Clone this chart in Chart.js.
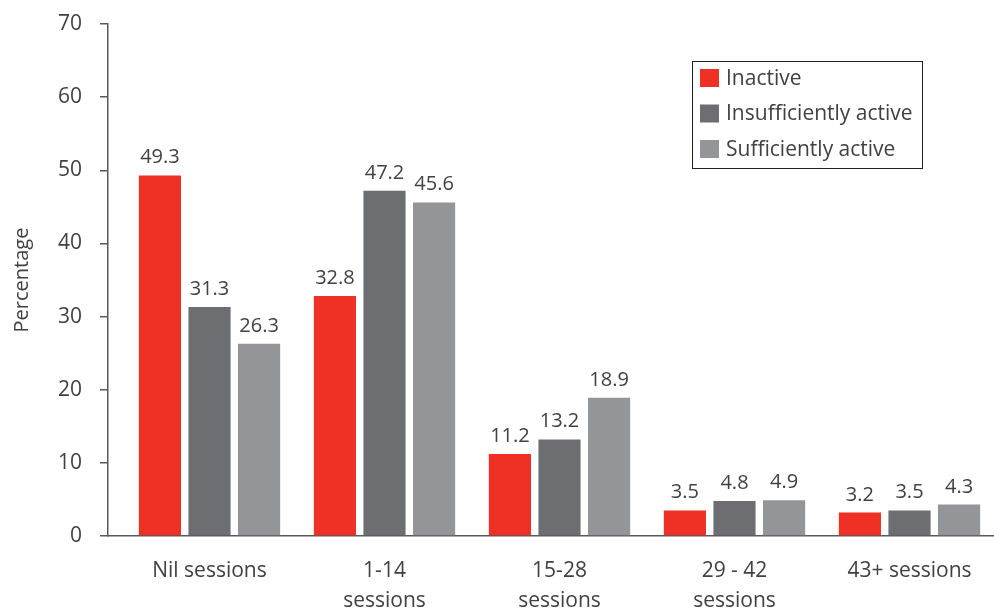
<!DOCTYPE html>
<html>
<head>
<meta charset="utf-8">
<script src="https://cdn.jsdelivr.net/npm/chart.js@4"></script>
<style>
  html, body { margin: 0; padding: 0; background: #fff; overflow: hidden; }
  #wrap { width: 994px; height: 613px; }
</style>
</head>
<body>
<div id="wrap"><canvas id="sessionsChart" width="994" height="613"></canvas></div>
<script>
var categories = ['Nil sessions', ['1-14', 'sessions'], ['15-28', 'sessions'], ['29 - 42', 'sessions'], '43+ sessions'];
var inactive = [49.3, 32.8, 11.2, 3.5, 3.2];
var insufficientlyActive = [31.3, 47.2, 13.2, 4.8, 3.5];
var sufficientlyActive = [26.3, 45.6, 18.9, 4.9, 4.3];
var yTicks = [0, 10, 20, 30, 40, 50, 60, 70];

var textColor = '#414042';
var axisColor = '#58595b';
var fontFamily = '"Open Sans", "Noto Sans", sans-serif';

// numbers above each bar
var valueLabels = {
  id: 'valueLabels',
  afterDatasetsDraw: function (chart) {
    var ctx = chart.ctx;
    ctx.save();
    ctx.fillStyle = textColor;
    ctx.font = '20px ' + fontFamily;
    ctx.textAlign = 'center';
    ctx.textBaseline = 'alphabetic';
    chart.data.datasets.forEach(function (ds, i) {
      chart.getDatasetMeta(i).data.forEach(function (bar, j) {
        ctx.fillText(ds.data[j].toFixed(1), bar.x, bar.y - 12);
      });
    });
    ctx.restore();
  }
};

// boxed legend in the upper right
var boxLegend = {
  id: 'boxLegend',
  afterDraw: function (chart) {
    var ctx = chart.ctx;
    var left = 692, top = 61, w = 230, h = 107;
    ctx.save();
    ctx.strokeStyle = '#231f20';
    ctx.lineWidth = 1;
    ctx.strokeRect(left + 0.5, top + 0.5, w, h);
    ctx.font = '21px ' + fontFamily;
    ctx.textBaseline = 'middle';
    chart.data.datasets.forEach(function (ds, i) {
      var cy = top + 17 + i * 35.5;
      ctx.fillStyle = ds.backgroundColor;
      ctx.fillRect(left + 8, cy - 9, 19, 18);
      ctx.fillStyle = textColor;
      ctx.fillText(ds.label, left + 34, cy + 1);
    });
    ctx.restore();
  }
};

new Chart(document.getElementById('sessionsChart'), {
  type: 'bar',
  data: {
    labels: categories,
    datasets: [
      { label: 'Inactive', data: inactive, backgroundColor: '#ee3124' },
      { label: 'Insufficiently active', data: insufficientlyActive, backgroundColor: '#6d6e71' },
      { label: 'Sufficiently active', data: sufficientlyActive, backgroundColor: '#939598' }
    ]
  },
  options: {
    responsive: false,
    animation: false,
    layout: { padding: { top: 24, right: 0, bottom: 0, left: 0 }, autoPadding: false },
    datasets: { bar: { categoryPercentage: 0.85, barPercentage: 0.85 } },
    plugins: { legend: { display: false }, tooltip: { enabled: false } },
    scales: {
      x: {
        afterFit: function (scale) { scale.height = 77; },
        // groups sit 175px apart, starting a little right of the y axis
        afterBuildTicks: function (scale) {
          scale._startValue = -0.58;
          scale._valueRange = 886 / 175;
        },
        grid: { display: false },
        border: { display: true, color: axisColor, width: 1.5 },
        ticks: {
          color: textColor,
          font: { family: fontFamily, size: 21, lineHeight: 1.43 },
          padding: 12,
          maxRotation: 0,
          autoSkip: false
        }
      },
      y: {
        min: 0,
        max: 70,
        afterFit: function (scale) {
          scale.width = 108;
          // keep the wide tick padding from pushing the plot down
          scale.paddingTop = 0;
          scale.paddingBottom = 0;
        },
        afterBuildTicks: function (scale) {
          scale.ticks = yTicks.map(function (v) { return { value: v }; });
        },
        grid: { drawOnChartArea: false, drawTicks: true, tickLength: 8, color: axisColor, lineWidth: 1.5 },
        border: { display: true, color: axisColor, width: 1.5 },
        ticks: {
          color: textColor,
          font: { family: fontFamily, size: 21 },
          padding: 18
        },
        title: {
          display: true,
          text: 'Percentage',
          color: textColor,
          font: { family: fontFamily, size: 20 },
          padding: { top: 10, bottom: 0 }
        }
      }
    }
  },
  plugins: [valueLabels, boxLegend]
});
</script>
</body>
</html>
